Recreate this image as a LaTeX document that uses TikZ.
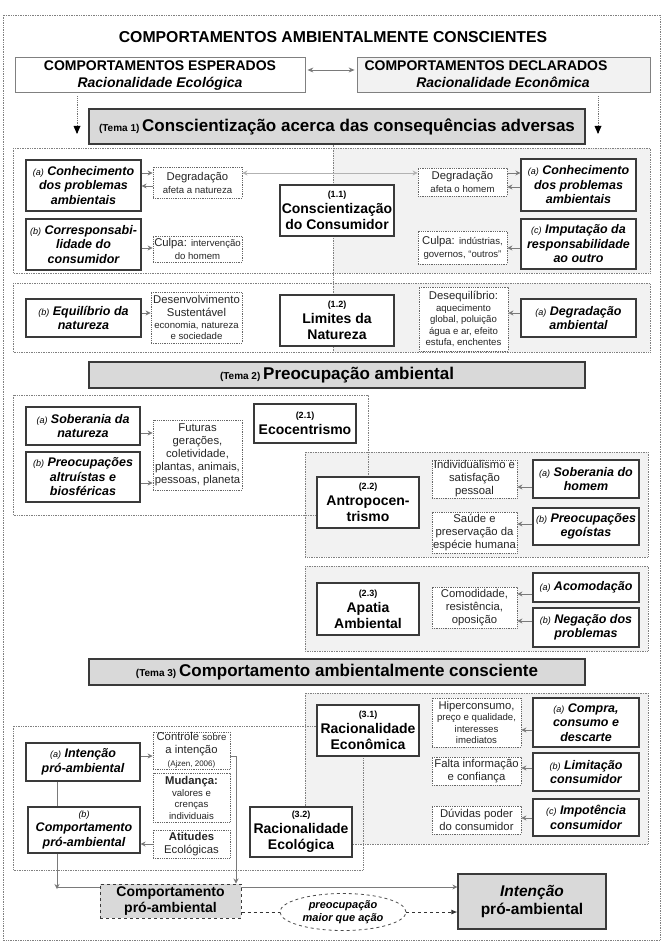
\documentclass[tikz,border=0pt]{standalone}
\usepackage{fontspec}
\setmainfont{Liberation Sans}
\usetikzlibrary{arrows.meta,shapes.geometric}
\definecolor{lgray}{HTML}{F2F2F2}
\definecolor{mgray}{HTML}{D9D9D9}
\definecolor{bord}{HTML}{3A3A3A}
\definecolor{agray}{HTML}{7A7A7A}
\newcommand\fA{\fontsize{11.3}{13}\selectfont}
\newcommand\fB{\fontsize{9.6}{12}\selectfont}
\newcommand\fC{\fontsize{8}{10}\selectfont}
\newcommand\pfx[1]{{\fontsize{9}{10}\selectfont\mdseries(#1)}}
\newcommand\nlabel[1]{{\fontsize{9}{10}\selectfont(#1)}}
\newcommand\place[7]{\node[#2, minimum width={(#5)-(#3)}, minimum height={(#6)-(#4)}] (#1) at ({((#3)+(#5))/2},{((#4)+(#6))/2}) {#7};}
\tikzset{
 bx/.style={draw=bord, line width=1.1pt, fill=white, align=center, inner sep=1pt, font=\bfseries\itshape\fontsize{12.5}{14.5}\selectfont},
 cbx/.style={draw=bord, line width=1.1pt, fill=white, align=center, inner sep=1pt, font=\bfseries\fontsize{14}{16}\selectfont},
 dbx/.style={draw=black!60, densely dotted, line width=0.8pt, fill=white, align=center, inner sep=0pt, text=black!85, font=\fA},
 cont/.style={draw=black!50, densely dotted, line width=0.7pt},
 tbx/.style={draw=bord, line width=1.1pt, fill=mgray, align=center, inner sep=1pt, font=\bfseries},
 topbx/.style={draw=black!50, line width=0.8pt},
 topfont/.style={font=\bfseries\fontsize{14}{16.5}\selectfont},
 arr/.style={draw=agray, line width=0.8pt, -{Stealth[length=5pt,width=5pt]}},
 lgarr/.style={draw=black!30, line width=0.8pt, {Stealth[length=5pt,width=5pt]}-{Stealth[length=5pt,width=5pt]}},
 dotarr/.style={draw=black!55, densely dotted, line width=0.8pt, -{Triangle[length=6pt,width=5pt]}, {Triangle[length=6pt,width=5pt,black]}},
 cpabx/.style={draw=bord, dashed, line width=1pt, fill=mgray, align=center, inner sep=1pt, font=\bfseries\fontsize{14}{16}\selectfont},
 ipbx/.style={draw=bord, line width=1.2pt, fill=mgray, align=center, inner sep=1pt, font=\bfseries\fontsize{15.5}{18}\selectfont},
}
\begin{document}
\begin{tikzpicture}[x=1pt,y=-1pt]
\useasboundingbox (0,0) rectangle (665,944);
\draw[cont] (3,15) rectangle (660,940);

% ---------- top ----------
\node[font=\bfseries\fontsize{15.8}{18}\selectfont] (title) at (333,37) {COMPORTAMENTOS AMBIENTALMENTE CONSCIENTES};
\place{esp}{topbx,fill=white}{15}{57}{305}{92}{}
\node[topfont, anchor=base] (espA) at (160,71) {COMPORTAMENTOS ESPERADOS};
\node[topfont, anchor=base] (espB) at (160,88) {\itshape Racionalidade Ecológica};
\place{dec}{topbx,fill=lgray}{357}{57}{650}{92}{}
\node[topfont, anchor=base west] (decA) at (361,71) {COMPORTAMENTOS DECLARADOS};
\node[topfont, anchor=base] (decB) at (503,88) {\itshape Racionalidade Econômica};
\draw[draw=agray, line width=0.9pt, {Stealth[length=6pt,width=5pt]}-{Stealth[length=6pt,width=5pt]}, shorten <=2pt, shorten >=2pt] (esp.east |- 0,70) -- (dec.west |- 0,70);

\place{t1}{tbx}{89}{109}{585}{144}{{\fontsize{10}{12}\selectfont(Tema 1)} {\fontsize{17}{20}\selectfont Conscientização acerca das consequências adversas}}
\coordinate (dl) at (77,134);
\coordinate (dr) at (598,134);
\draw[draw=black!55, densely dotted, line width=0.8pt, shorten <=4pt] (esp.south -| dl) -- (dl);
\draw[draw=black!55, densely dotted, line width=0.8pt, shorten <=4pt] (dec.south -| dr) -- (dr);
\fill[black] (dl) -- ++(-3.5,-8) -- ++(7,0) -- cycle;
\fill[black] (dr) -- ++(-3.5,-8) -- ++(7,0) -- cycle;

% ---------- section 1 ----------
\fill[lgray] (333,148) rectangle (650,273);
\draw[cont] (13,148) rectangle (650,273);
\fill[lgray] (333,283) rectangle (650,352);
\draw[cont] (13,283) rectangle (650,352);
\draw[cont] (t1.south -| 333,0) -- (333,352);

\place{kA1}{bx}{26}{160}{141}{211}{\pfx{a} Conhecimento\\dos problemas\\ambientais}
\place{deg1}{dbx}{153}{167}{242}{198}{Degradação\\{\fB afeta a natureza}}
\place{kB1}{bx}{26}{219}{141}{270}{\pfx{b} Corresponsabi-\\lidade do\\consumidor}
\place{culpa1}{dbx}{153}{236}{242}{262}{Culpa: {\fB intervenção}\\{\fB do homem}}
\place{c11}{cbx}{280}{185}{394}{236}{\nlabel{1.1}\\Conscientização\\do Consumidor}
\place{deg2}{dbx}{418}{168}{507}{196}{Degradação\\{\fB afeta o homem}}
\place{kA2}{bx}{521}{159}{636}{211}{\pfx{a} Conhecimento\\dos problemas\\ambientais}
\place{culpa2}{dbx}{418}{231}{507}{264}{Culpa: {\fB indústrias,}\\{\fB governos, ``outros''}}
\place{kC2}{bx}{521}{219}{636}{269}{\pfx{c} Imputação da\\responsabilidade\\ao outro}

\draw[arr] (kA1.east |- 0,173) -- (deg1.west |- 0,173);
\draw[arr] (deg1.west |- 0,186) -- (kA1.east |- 0,186);
\draw[lgarr] (deg1.east |- 0,173) -- (deg2.west |- 0,173);
\draw[arr] (deg2.east |- 0,173) -- (kA2.west |- 0,173);
\draw[arr] (kA2.west |- 0,187) -- (deg2.east |- 0,187);
\draw[arr] (kB1.east |- 0,248) -- (culpa1.west |- 0,248);
\draw[arr] (kC2.west |- 0,248) -- (culpa2.east |- 0,248);

\place{eq}{bx}{26}{299}{141}{337}{\pfx{b} Equilíbrio da\\natureza}
\place{des1}{dbx}{151}{292}{242}{343}{Desenvolvimento\\Sustentável\\[-1pt]{\fB economia, natureza}\\[-1.5pt]{\fB e sociedade}}
\place{lim}{cbx}{280}{295}{394}{346}{\nlabel{1.2}\\Limites da\\Natureza}
\place{deseq}{dbx}{419}{287}{508}{351}{Desequilíbrio:\\[-1.5pt]{\fB aquecimento}\\[-1.5pt]{\fB global, poluição}\\[-1.5pt]{\fB água e ar, efeito}\\[-1.5pt]{\fB estufa, enchentes}}
\place{degamb}{bx}{521}{299}{636}{337}{\pfx{a} Degradação\\ambiental}
\draw[arr] (eq.east |- 0,313) -- (des1.west |- 0,313);
\draw[arr] (degamb.west |- 0,313) -- (deseq.east |- 0,313);

% ---------- section 2 ----------
\place{t2}{tbx}{89}{362}{585}{388}{{\fontsize{10}{12}\selectfont(Tema 2)} {\fontsize{17}{20}\selectfont Preocupação ambiental}}
\draw[cont, fill=lgray] (305,452) rectangle (648,557);
\draw[cont, fill=lgray] (305,566) rectangle (648,651);
\draw[cont] (13,395) rectangle (368,515);

\place{sobN}{bx}{26}{407}{140}{445}{\pfx{a} Soberania da\\natureza}
\place{altr}{bx}{26}{452}{140}{502}{\pfx{b} Preocupações\\altruístas e\\biosféricas}
\place{fut}{dbx}{153}{420}{242}{490}{Futuras\\gerações,\\coletividade,\\plantas, animais,\\pessoas, planeta}
\place{eco}{cbx}{254}{404}{356}{443}{\nlabel{2.1}\\Ecocentrismo}
\place{antro}{cbx}{317}{477}{419}{528}{\nlabel{2.2}\\Antropocen-\\trismo}
\place{indiv}{dbx}{432}{460}{517}{498}{Individualismo e\\satisfação\\pessoal}
\place{sobH}{bx}{533}{460}{639}{498}{\pfx{a} Soberania do\\homem}
\place{saude}{dbx}{432}{512}{517}{553}{Saúde e\\preservação da\\espécie humana}
\place{ego}{bx}{533}{508}{639}{545}{\pfx{b} Preocupações\\egoístas}
\place{apat}{cbx}{317}{583}{419}{635}{\nlabel{2.3}\\Apatia\\Ambiental}
\place{comod}{dbx}{432}{587}{517}{628}{Comodidade,\\resistência,\\oposição}
\place{acom}{bx}{533}{573}{639}{602}{\pfx{a} Acomodação}
\place{neg}{bx}{533}{608}{639}{647}{\pfx{b} Negação dos\\problemas}
\draw[arr] (sobN.east |- 0,433) -- (fut.west |- 0,433);
\draw[arr] (altr.east |- 0,483) -- (fut.west |- 0,483);
\draw[arr] (sobH.west |- 0,487) -- (indiv.east |- 0,487);
\draw[arr] (ego.west |- 0,524) -- (saude.east |- 0,524);
\draw[arr] (acom.west |- 0,594) -- (comod.east |- 0,594);
\draw[arr] (neg.west |- 0,621) -- (comod.east |- 0,621);

% ---------- section 3 ----------
\place{t3}{tbx}{89}{659}{585}{685}{{\fontsize{10}{12}\selectfont(Tema 3)} {\fontsize{17}{20}\selectfont Comportamento ambientalmente consciente}}
\draw[cont, fill=lgray] (305,693) rectangle (648,844);
\draw[cont] (13,726) rectangle (363,870);

\place{racEc}{cbx}{317}{705}{419}{756}{\nlabel{3.1}\\Racionalidade\\Econômica}
\place{hiper}{dbx}{432}{698}{521}{747}{Hiperconsumo,\\[-1.5pt]{\fB preço e qualidade,}\\[-1.5pt]{\fB interesses}\\[-1.5pt]{\fB imediatos}}
\place{compra}{bx}{533}{698}{639}{747}{\pfx{a} Compra,\\consumo e\\descarte}
\place{falta}{dbx}{432}{757}{521}{785}{Falta informação\\e confiança}
\place{limit}{bx}{533}{753}{639}{791}{\pfx{b} Limitação\\consumidor}
\place{duv}{dbx}{432}{806}{521}{834}{Dúvidas poder\\do consumidor}
\place{impot}{bx}{533}{799}{639}{836}{\pfx{c} Impotência\\consumidor}
\draw[arr] (compra.west |- 0,730) -- (hiper.east |- 0,730);
\draw[arr] (limit.west |- 0,768) -- (falta.east |- 0,768);
\draw[arr] (impot.west |- 0,818) -- (duv.east |- 0,818);

\place{racEco}{cbx}{250}{807}{352}{857}{\nlabel{3.2}\\Racionalidade\\Ecológica}
\place{intA}{bx}{26}{743}{140}{781}{\pfx{a} Intenção\\pró-ambiental}
\place{compB}{bx}{28}{807}{140}{853}{\pfx{b}\\Comportamento\\pró-ambiental}
\place{ctrl}{dbx}{153}{732}{230}{769}{Controle {\fB sobre}\\a intenção\\{\fC (Ajzen, 2006)}}
\place{mud}{dbx}{153}{773}{230}{822}{{\bfseries Mudança:}\\[-1pt]{\fB valores e}\\[-1.5pt]{\fB crenças}\\[-1.5pt]{\fB individuais}}
\place{atit}{dbx}{153}{830}{230}{858}{{\bfseries Atitudes}\\Ecológicas}
\draw[draw=agray, line width=0.8pt] (intA.south -| 57,0) -- (compB.north -| 57,0);
\draw[arr] (intA.east |- 0,756) -- (ctrl.west |- 0,756);
\draw[arr] (atit.west |- 0,844) -- (compB.east |- 0,844);

% ---------- bottom ----------
\place{intP}{ipbx}{458}{874}{606}{929}{\itshape Intenção\\pró-ambiental}
\coordinate (corner) at (57,887);
\draw[arr] (compB.south -| corner) -- ([yshift=-2pt]corner);
\draw[arr] (corner) -- (intP.west |- corner);
\place{cpa}{cpabx}{100}{884}{241}{918}{Comportamento\\pró-ambiental}
\draw[arr] (ctrl.east |- 0,756) -| (cpa.north -| 236,0);
\node[ellipse, draw=black!70, dashed, line width=0.8pt, minimum width=126, minimum height=37, inner sep=0pt, align=center, font=\bfseries\itshape\fontsize{11}{12.5}\selectfont] (ell) at (343,912) {preocupação\\maior que ação};
\draw[draw=black!80, dashed, line width=0.9pt] (cpa.east |- ell) -- (ell.west);
\draw[draw=black!80, dashed, line width=0.9pt, -{Latex[length=6pt,width=5pt]}] (ell.east) -- (intP.west |- ell);
\end{tikzpicture}
\end{document}
